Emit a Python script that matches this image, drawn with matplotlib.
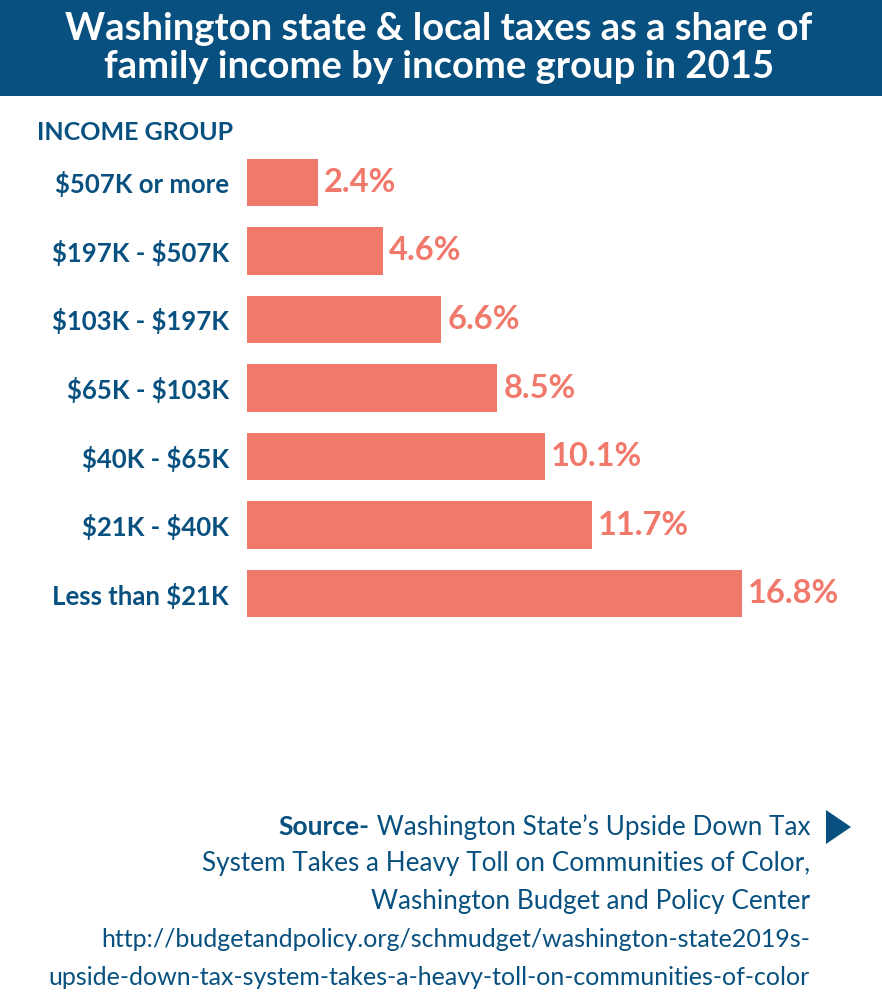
import matplotlib
matplotlib.use("Agg")
import matplotlib.pyplot as plt
from matplotlib.patches import Rectangle, Polygon

groups = [r'\$507K or more', r'\$197K - \$507K', r'\$103K - \$197K', r'\$65K - \$103K',
          r'\$40K - \$65K', r'\$21K - \$40K', r'Less than \$21K']
shares = [2.4, 4.6, 6.6, 8.5, 10.1, 11.7, 16.8]
value_labels = ['2.4%', '4.6%', '6.6%', '8.5%', '10.1%', '11.7%', '16.8%']

title = 'Washington state & local taxes as a share of\nfamily income by income group in 2015'
source_lines = ['System Takes a Heavy Toll on Communities of Color,',
                'Washington Budget and Policy Center',
                'http://budgetandpolicy.org/schmudget/washington-state2019s-',
                'upside-down-tax-system-takes-a-heavy-toll-on-communities-of-color']

blue = '#08507f'
salmon = '#f0796b'
W, H = 882, 998
font = ['Lato', 'DejaVu Sans']

fig = plt.figure(figsize=(W / 100, H / 100), dpi=100)
fig.patch.set_facecolor('white')

# header band
fig.patches.append(Rectangle((0, 1 - 96 / H), 1, 96 / H, transform=fig.transFigure,
                             facecolor=blue, edgecolor='none'))
fig.text(439 / W, 1 - 48 / H, title, color='white', fontsize=27.5, fontweight='bold',
         family=font, ha='center', va='center', linespacing=1.15)

fig.text(37 / W, 1 - 132 / H, 'INCOME GROUP', color=blue, fontsize=18,
         fontweight='bold', family=font, ha='left', va='center')

# bars
ax = fig.add_axes([247 / W, 1 - 628 / H, 600 / W, 480 / H])
y = list(range(len(groups)))
ax.barh(y, shares, height=0.69, color=salmon)
ax.set_xlim(0, 600 / 29.46)
ax.set_ylim(len(groups) - 0.5, -0.5)
for s in ax.spines.values():
    s.set_visible(False)
ax.set_xticks([])
ax.set_yticks(y)
ax.set_yticklabels(groups, color=blue, fontsize=18.5, fontweight='bold', family=font)
ax.tick_params(axis='y', length=0, pad=13)
for yi, v, lab in zip(y, shares, value_labels):
    ax.text(v + 0.2, yi, lab, color=salmon, fontsize=23.5, fontweight='bold',
            family=font, ha='left', va='center')

# source block
src0 = fig.text(810 / W, 1 - 827 / H, 'Source-', color=blue, fontsize=19,
                fontweight='bold', family=font, ha='right', va='center')
src1 = fig.text(810 / W, 1 - 827 / H, ' Washington State\u2019s Upside Down Tax', color=blue,
                fontsize=18.8, family=font, ha='right', va='center')
for i, line in enumerate(source_lines):
    size = 18 if line.startswith(('http', 'upside')) else 18.8
    fig.text(810 / W, 1 - (864 + 37.7 * i) / H, line, color=blue, fontsize=size,
             family=font, ha='right', va='center')

# put 'Source-' just left of the first line
fig.canvas.draw()
bb = src1.get_window_extent()
src0.set_position((bb.x0 / W, 1 - 827 / H))

fig.patches.append(Polygon([(826 / W, 1 - 810 / H), (826 / W, 1 - 844 / H),
                            (851 / W, 1 - 827 / H)], closed=True,
                           transform=fig.transFigure, facecolor=blue, edgecolor='none'))

fig.savefig('out.png', dpi=100)
